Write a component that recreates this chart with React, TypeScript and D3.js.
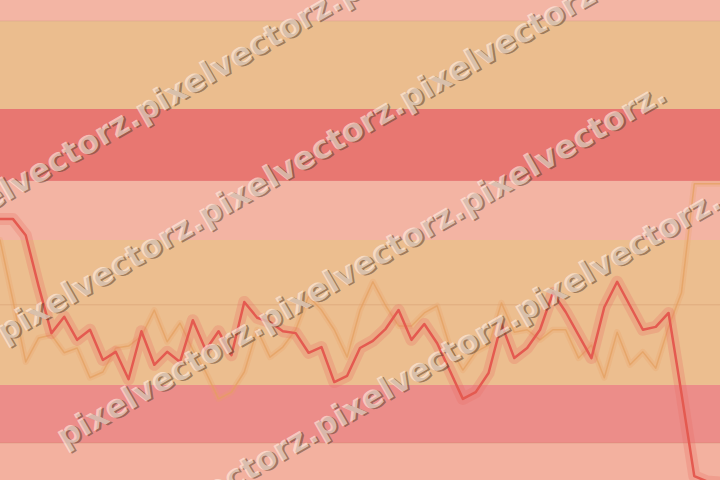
import React from "react";
import * as d3 from "d3";

const W = 720;
const H = 480;

// values per step (57 steps across the plot)
const mainSeries = [
  54.4, 54.4, 51.0, 40.4, 30.6, 34.0, 29.2, 31.3, 25.0, 26.7, 21.0, 31.0, 24.0, 26.7, 24.6,
  33.3, 27.1, 31.0, 26.0, 37.1, 33.8, 32.9, 31.0, 30.6, 26.5, 27.7, 20.4, 21.7, 27.5, 29.0,
  31.5, 35.4, 29.2, 32.5, 28.5, 22.7, 16.9, 18.3, 22.3, 32.5, 25.4, 27.5, 31.3, 39.0, 35.0,
  30.2, 25.4, 36.0, 41.3, 36.3, 31.3, 31.9, 34.8, 18.1, 0.8, -0.3, -0.5,
];

const faintSeries = [
  50.0, 37.5, 24.6, 29.6, 30.2, 26.5, 27.5, 21.3, 22.5, 27.5, 27.9, 30.0, 35.4, 28.8, 32.7,
  27.1, 22.5, 16.9, 18.3, 22.5, 31.3, 25.6, 27.7, 31.3, 38.3, 35.4, 31.3, 25.6, 35.4, 41.3,
  36.3, 32.1, 32.1, 34.8, 36.3, 27.7, 22.9, 26.7, 28.1, 36.9, 30.8, 31.3, 29.2, 31.3, 31.3,
  25.4, 28.1, 21.3, 30.8, 24.0, 26.7, 23.3, 31.9, 39.0, 61.7, 61.7, 61.7,
];

// band boundaries, top to bottom
const bandEdges = [100, 95.6, 77.3, 62.3, 50, 19.8, 7.7, 0];
const gridValues = [95.6, 36.5, 7.7];

const watermarkText = "pixelvectorz.pixelvectorz.pixelvectorz.";
const watermarkRows = [
  [-63, 232],
  [0, 336],
  [60, 441],
  [115, 548],
];

const bandFill = ["#f3b5a4", "#ebbd8e", "#e87771", "#f3b4a3", "#ecbe8f", "#ec8d89", "#f3b19f"];

export default function App() {
  const x = d3.scaleLinear().domain([0, mainSeries.length - 1]).range([0, W]);
  const y = d3.scaleLinear().domain([0, 100]).range([H, 0]);

  const line = d3
    .line<number>()
    .x((_, i) => x(i))
    .y((d) => y(d));

  const mainPath = line(mainSeries) || "";
  const faintPath = line(faintSeries) || "";

  return (
    <svg
      width={W}
      height={H}
      style={{ position: "absolute", left: 0, top: 0, display: "block" }}
    >
      <defs>
        <clipPath id="plot">
          <rect x={0} y={0} width={W} height={H} />
        </clipPath>
      </defs>

      {bandFill.map((c, i) => (
        <rect
          key={i}
          x={0}
          y={y(bandEdges[i])}
          width={W}
          height={y(bandEdges[i + 1]) - y(bandEdges[i])}
          fill={c}
        />
      ))}

      {gridValues.map((g) => (
        <line
          key={g}
          x1={0}
          x2={W}
          y1={y(g)}
          y2={y(g)}
          stroke="rgba(190,120,80,0.25)"
          strokeWidth={1}
        />
      ))}

      <g clipPath="url(#plot)" fill="none" strokeLinejoin="round" strokeLinecap="round">
        <path d={faintPath} stroke="rgba(236,160,100,0.25)" strokeWidth={6} />
        <path d={faintPath} stroke="rgba(228,160,95,0.7)" strokeWidth={1.5} />
        <path d={mainPath} stroke="rgba(232,110,100,0.28)" strokeWidth={12} />
        <path d={mainPath} stroke="#e45a50" strokeWidth={2.5} />
      </g>

      <g
        fontFamily="DejaVu Sans, Verdana, sans-serif"
        fontWeight="bold"
        fontSize={32}
      >
        {watermarkRows.map(([px, py], i) => (
          <g key={i} transform={`translate(${px + 4},${py + 7.5}) rotate(-30)`}>
            <text x={1.5} y={1.8} fill="rgba(95,65,45,0.55)">
              {watermarkText}
            </text>
            <text x={0} y={0} fill="rgba(255,240,228,0.62)">
              {watermarkText}
            </text>
          </g>
        ))}
      </g>
    </svg>
  );
}
